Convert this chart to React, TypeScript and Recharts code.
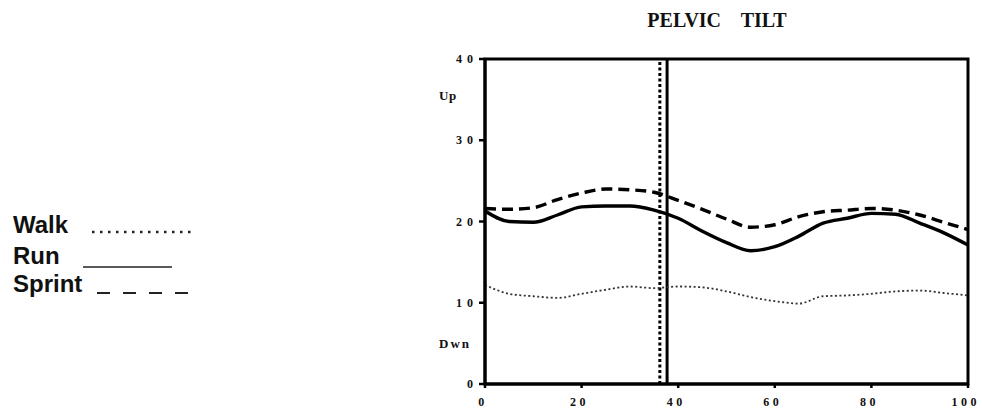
import React from 'react';
import { LineChart, Line, XAxis, YAxis, ReferenceLine, ReferenceArea } from 'recharts';

// percent of gait cycle
const cycle = [0, 5, 10, 15, 20, 25, 30, 35, 40, 45, 50, 55, 60, 65, 70, 75, 80, 85, 90, 95, 100];
const walk = [12.2, 11.1, 10.8, 10.6, 11.1, 11.6, 12.0, 11.8, 12.0, 11.9, 11.4, 10.7, 10.2, 9.9, 10.8, 10.9, 11.1, 11.4, 11.5, 11.2, 10.9];
const run = [21.3, 20.0, 19.9, 20.8, 21.8, 21.9, 21.9, 21.4, 20.4, 18.8, 17.4, 16.4, 16.9, 18.2, 19.8, 20.4, 21.0, 20.9, 19.8, 18.6, 17.1];
const sprint = [21.6, 21.5, 21.7, 22.7, 23.5, 24.0, 23.9, 23.6, 22.6, 21.5, 20.3, 19.3, 19.6, 20.6, 21.2, 21.4, 21.6, 21.4, 20.8, 19.9, 19.0];

const xTicks = [0, 20, 40, 60, 80, 100];
const yTicks = [0, 5, 10, 20, 30, 35.5, 40];
const yWords: Record<number, string> = { 35.5: 'Up', 5: 'Dwn' };

// toe-off markers
const walkToeOff = 36.2;
const runToeOff = 37.7;

const data = cycle.map((c, i) => ({ c, walk: walk[i], run: run[i], sprint: sprint[i] }));

const serif = '"Liberation Serif", "DejaVu Serif", serif';
const sans = '"Liberation Sans", Arial, sans-serif';

const YTick = (props: any) => {
  const { x, y, payload } = props;
  const word = yWords[payload.value];
  if (word) {
    return (
      <text x={x - 39} y={y} dy="0.35em" textAnchor="start" fontFamily={serif} fontWeight="bold" fontSize={13} letterSpacing={word === 'Dwn' ? 2 : 0.5} fill="#111">
        {word}
      </text>
    );
  }
  return (
    <g>
      <line x1={x + 1} x2={x + 7} y1={y} y2={y} stroke="#000" strokeWidth={2.5} />
      <text x={x} y={y} dy="0.35em" textAnchor="end" fontFamily={serif} fontWeight="bold" fontSize={12} letterSpacing={5} fill="#111">
        {payload.value}
      </text>
    </g>
  );
};

const App: React.FC = () => {
  return (
    <div style={{ position: 'absolute', left: 0, top: 0, width: 982, height: 416, background: '#fff' }}>
      <svg width={982} height={416} style={{ position: 'absolute', left: 0, top: 0 }}>
        <text x={717} y={27} textAnchor="middle" fontFamily={serif} fontWeight="bold" fontSize={20} fill="#111" style={{ whiteSpace: 'pre' }}>
          {'PELVIC    TILT'}
        </text>
        <g fontFamily={sans} fontWeight="bold" fontSize={24} fill="#111">
          <text x={13} y={233}>Walk</text>
          <text x={13} y={264}>Run</text>
          <text x={13} y={292}>Sprint</text>
        </g>
        <line x1={92} x2={194} y1={232} y2={232} stroke="#222" strokeWidth={2.5} strokeDasharray="2.5 5.5" />
        <line x1={83} x2={172} y1={267} y2={267} stroke="#222" strokeWidth={1.5} />
        <line x1={97} x2={190} y1={293} y2={293} stroke="#222" strokeWidth={2} strokeDasharray="13 13" />
      </svg>

      <LineChart
        width={982}
        height={416}
        data={data}
        margin={{ top: 59, right: 14, left: 425, bottom: 2 }}
        style={{ position: 'absolute', left: 0, top: 0 }}
      >
        <ReferenceArea x1={0} x2={100} y1={0} y2={40} stroke="#000" strokeWidth={3} fill="none" fillOpacity={0} />
        <XAxis
          dataKey="c"
          type="number"
          domain={[0, 100]}
          ticks={xTicks}
          height={30}
          axisLine={{ stroke: '#000', strokeWidth: 3 }}
          tickLine={{ stroke: '#000', strokeWidth: 2.5 }}
          tickSize={4}
          tickMargin={9}
          tick={{ fill: '#111', fontSize: 12, fontWeight: 'bold', fontFamily: serif, letterSpacing: 3.5, dx: -2 }}
        />
        <YAxis
          type="number"
          domain={[0, 40]}
          ticks={yTicks}
          width={60}
          axisLine={{ stroke: '#000', strokeWidth: 3 }}
          tickLine={false}
          tickSize={6}
          tickMargin={1}
          tick={<YTick />}
        />
        <ReferenceLine x={walkToeOff} stroke="#000" strokeWidth={3} strokeDasharray="3 2.5" />
        <ReferenceLine x={runToeOff} stroke="#000" strokeWidth={3} />
        <Line type="monotone" dataKey="walk" stroke="#333" strokeWidth={1.8} strokeDasharray="2 2.5" dot={false} isAnimationActive={false} />
        <Line type="monotone" dataKey="run" stroke="#000" strokeWidth={3.4} dot={false} isAnimationActive={false} />
        <Line type="monotone" dataKey="sprint" stroke="#000" strokeWidth={3.4} strokeDasharray="11 6" dot={false} isAnimationActive={false} />
      </LineChart>
    </div>
  );
};

export default App;
